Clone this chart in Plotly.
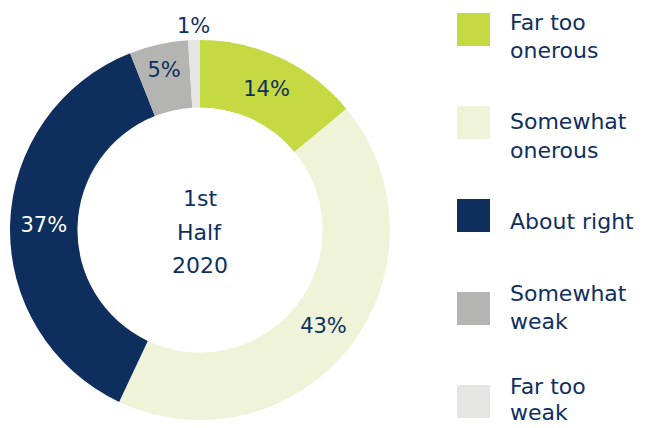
import numpy as np
import plotly.graph_objects as go

# Data
labels = ['Far too onerous', 'Somewhat onerous', 'About right', 'Somewhat weak', 'Far too weak']
legend_lines = [['Far too', 'onerous'], ['Somewhat', 'onerous'], ['About right'],
                ['Somewhat', 'weak'], ['Far too', 'weak']]
values = [14, 43, 37, 5, 1]
center_lines = ['1st', 'Half', '2020']

NAVY = '#0f2f5f'
colors = ['#c5d943', '#eff4d9', '#0e2f5e', '#b4b5b3', '#e5e6e1']
text_colors = [NAVY, NAVY, 'white', NAVY, NAVY]
FONT = 'DejaVu Sans'

# page body has an 8px margin, so the figure is drawn 8px smaller and
# reference pixel positions are shifted by that amount
OFF = 8
W, H = 645 - OFF, 428 - OFF


def px(x):
    return (x - OFF) / W


def py(y):
    return 1 - (y - OFF) / H


CX, CY, R = 200, 230, 190
LEG_TEXT_Y = [23, 122, 221, 293, 386]   # first-line centre of each legend label
LINE_GAP = [28, 28, 28, 28, 26]

fig = go.Figure()

fig.add_trace(go.Pie(
    labels=labels,
    values=values,
    hole=0.645,
    sort=False,
    direction='clockwise',
    rotation=0,
    marker=dict(colors=colors, line=dict(width=0)),
    text=[f'{v}%' if v >= 3 else '' for v in values],
    textinfo='text',
    textposition='inside',
    insidetextorientation='horizontal',
    textfont=dict(family=FONT, size=21, color=text_colors),
    hoverinfo='label+percent',
    showlegend=False,
    domain=dict(x=[px(CX - R), px(CX + R)], y=[py(CY + R), py(CY - R)]),
))

# small slice label placed just outside the ring
cum = np.cumsum(values)
total = cum[-1]
for i, v in enumerate(values):
    if v >= 3:
        continue
    mid = (cum[i] - v / 2) / total * 2 * np.pi
    lx = CX + (R + 14) * np.sin(mid)
    ly = CY - (R + 14) * np.cos(mid)
    fig.add_annotation(
        x=px(lx), y=py(ly), xref='paper', yref='paper',
        text=f'{v}%', showarrow=False,
        font=dict(family=FONT, size=21, color=NAVY),
        xanchor='center', yanchor='middle'
    )

# centre text
for i, line in enumerate(center_lines):
    fig.add_annotation(
        x=px(CX), y=py(199 + i * 33), xref='paper', yref='paper',
        text=line, showarrow=False,
        font=dict(family=FONT, size=22, color=NAVY),
        xanchor='center', yanchor='middle'
    )

# manual legend
for i, (lines, col) in enumerate(zip(legend_lines, colors)):
    top = 13 + i * 93
    fig.add_shape(
        type='rect', xref='paper', yref='paper',
        x0=px(457), x1=px(490), y0=py(top + 33), y1=py(top),
        fillcolor=col, line=dict(width=0)
    )
    for j, txt in enumerate(lines):
        fig.add_annotation(
            x=px(508), y=py(LEG_TEXT_Y[i] + j * LINE_GAP[i]), xref='paper', yref='paper',
            text=txt, showarrow=False, align='left',
            font=dict(family=FONT, size=22, color=NAVY),
            xanchor='left', yanchor='middle'
        )

fig.update_layout(
    width=W, height=H,
    margin=dict(l=0, r=0, t=0, b=0),
    paper_bgcolor='white',
    plot_bgcolor='white',
    showlegend=False,
)

fig.write_html('out.html')
